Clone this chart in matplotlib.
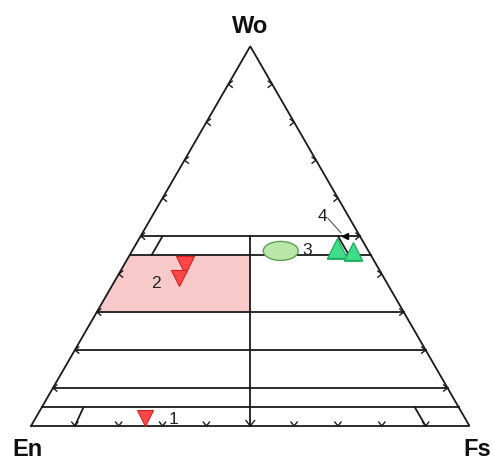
import numpy as np
import matplotlib
matplotlib.use("Agg")
import matplotlib.pyplot as plt
from matplotlib.patches import Polygon, Ellipse

# ---- data (compositions in mol %, Wo / Fs; En = 100 - Wo - Fs) ----
wo_lines = [50, 45, 30, 20, 10, 5]          # horizontal Wo iso-lines
tick_levels = [10, 20, 30, 40, 50, 60, 70, 80, 90]

pt1_wo = [2.0]
pt1_fs = [24.9]
pt2_wo = [42.4, 39.0]
pt2_fs = [14.0, 14.2]
pt4_wo = [46.9, 46.1]
pt4_fs = [46.4, 50.3]
ell3_wo = 46.1
ell3_fs = 33.9
arrow4_wo = 50.0
arrow4_fs = 46.6
pink_wo = [30, 45]        # Wo range of shaded field (En-rich half)

H = np.sqrt(3) / 2


def tern(wo, fs):
    wo = np.asarray(wo, float) / 100.0
    fs = np.asarray(fs, float) / 100.0
    return fs + wo / 2, wo * H


S = 438.5  # pixels per unit base length
plt.rcParams['font.family'] = ['Liberation Sans', 'DejaVu Sans']
fig = plt.figure(figsize=(4.93, 4.60), dpi=100)
ax = fig.add_axes([0, 0, 1, 1])
ax.set_xlim(-31 / S, (493 - 31) / S)
ax.set_ylim(-(460 - 427) / S, 427 / S)
ax.set_aspect('equal')
ax.axis('off')

lc = '#1a1a1a'
lw = 1.3

# pink field
w0, w1 = pink_wo
xa, ya = tern(w0, 0)
xb, yb = tern(w1, 0)
xc, yc = tern(w1, 50 - w1 / 2)
xd, yd = tern(w0, 50 - w0 / 2)
ax.add_patch(Polygon([(xa, ya), (xb, yb), (xc, yc), (xd, yd)], closed=True,
                     facecolor='#f7c9c9', edgecolor='none', zorder=1))

# triangle outline
tx, ty = tern([0, 0, 100, 0], [0, 100, 0, 0])
ax.plot(tx, ty, color=lc, lw=lw, zorder=2, solid_joinstyle='miter')

# horizontal Wo lines
for w in wo_lines:
    x0, y0 = tern(w, 0)
    x1, y1 = tern(w, 100 - w)
    ax.plot([x0, x1], [y0, y1], color=lc, lw=lw, zorder=2)

# vertical En=Fs line with arrow at base
x0, y0 = tern(50, 25)
x1, y1 = tern(0, 50)
ax.plot([x0, x1], [y0, y1], color=lc, lw=lw, zorder=2)

# short oblique lines
seg = [((0, 10), (5, 9.5)), ((0, 90), (5, 85)), ((45, 5), (50, 5)),
       ((45, 50), (50, 45))]
for (wa, fa), (wb, fb) in seg:
    xa_, ya_ = tern(wa, fa)
    xb_, yb_ = tern(wb, fb)
    ax.plot([xa_, xb_], [ya_, yb_], color=lc, lw=lw, zorder=2)


def chevron(x, y, dx, dy, a, th=np.deg2rad(38)):
    # vertex at (x,y), arms opening in direction (dx,dy)
    c, s = np.cos(th), np.sin(th)
    r1 = (dx * c - dy * s, dx * s + dy * c)
    r2 = (dx * c + dy * s, -dx * s + dy * c)
    ax.plot([x + a * r1[0], x, x + a * r2[0]], [y + a * r1[1], y, y + a * r2[1]],
            color=lc, lw=1.0, zorder=2, solid_joinstyle='miter')


a = 5 / S
for t in tick_levels:
    bx, by = tern(0, t)
    chevron(bx, by, 0, 1, a if t != 50 else 7 / S)
    lx, ly = tern(t, 0)
    chevron(lx, ly, 1, 0, a)
    rx, ry = tern(t, 100 - t)
    chevron(rx, ry, -1, 0, a)

# ellipse (3)
ex, ey = tern(ell3_wo, ell3_fs)
ax.add_patch(Ellipse((ex, ey), 35 / S, 19 / S, facecolor='#b9e8a8',
                     edgecolor='#5f9e57', lw=1.0, zorder=3))

# markers
red_fc, red_ec = '#ff4747', '#d02222'
x1_, y1_ = tern(pt1_wo, pt1_fs)
ax.plot(x1_, y1_, 'v', ms=12, mfc=red_fc, mec=red_ec, mew=0.8, zorder=4)
x2_, y2_ = tern(pt2_wo, pt2_fs)
for xi, yi, ms in zip(x2_, y2_, [13.5, 11]):
    ax.plot([xi], [yi], 'v', ms=ms, mfc=red_fc, mec=red_ec, mew=0.8, zorder=4)

grn_fc, grn_ec = '#3fdc8a', '#1fa860'
x4_, y4_ = tern(pt4_wo, pt4_fs)
for xi, yi, ms in zip(x4_, y4_, [14.5, 13]):
    ax.plot([xi], [yi - 1.5 / S], '^', ms=ms, mfc='#2fb870', mec='#2fb870',
            mew=0.8, zorder=4)
    ax.plot([xi], [yi], '^', ms=ms, mfc=grn_fc, mec=grn_ec, mew=0.8, zorder=4)

# arrow 4
axx, ayy = tern(arrow4_wo, arrow4_fs)
ax.plot([axx], [ayy], '<', ms=5, color='black', zorder=5)
ax.annotate('', xy=(axx - 2 / S, ayy + 1 / S), xytext=(-17 * 0.72, 19 * 0.72),
            textcoords='offset points',
            arrowprops=dict(arrowstyle='-', color='#555555', lw=0.8), zorder=5)

# number labels
lab_kw = dict(textcoords='offset points', ha='center', va='baseline',
              fontsize=12.5, color='#222222', zorder=6)
ax.annotate('1', xy=(x1_[0], y1_[0]), xytext=(28.5 * 0.72, -4.5 * 0.72), **lab_kw)
ax.annotate('2', xy=(x2_[1], y2_[1]), xytext=(-22.5 * 0.72, -9 * 0.72), **lab_kw)
ax.annotate('3', xy=(ex, ey), xytext=(26.5 * 0.72, -3 * 0.72), **lab_kw)
ax.annotate('4', xy=(axx, ayy), xytext=(-23 * 0.72, 16 * 0.72), **lab_kw)

# vertex labels
vk = dict(textcoords='offset points', fontsize=17, fontweight='bold',
          color='#111111', va='baseline', annotation_clip=False)
ax.annotate('Wo', xy=tern(100, 0), xytext=(0, 14.3 * 0.72), ha='center', **vk)
ax.annotate('En', xy=tern(0, 0), xytext=(-19 * 0.72, -29 * 0.72), ha='left', **vk)
ax.annotate('Fs', xy=tern(0, 100), xytext=(-6 * 0.72, -29 * 0.72), ha='left', **vk)

fig.savefig('out.png', dpi=100)
